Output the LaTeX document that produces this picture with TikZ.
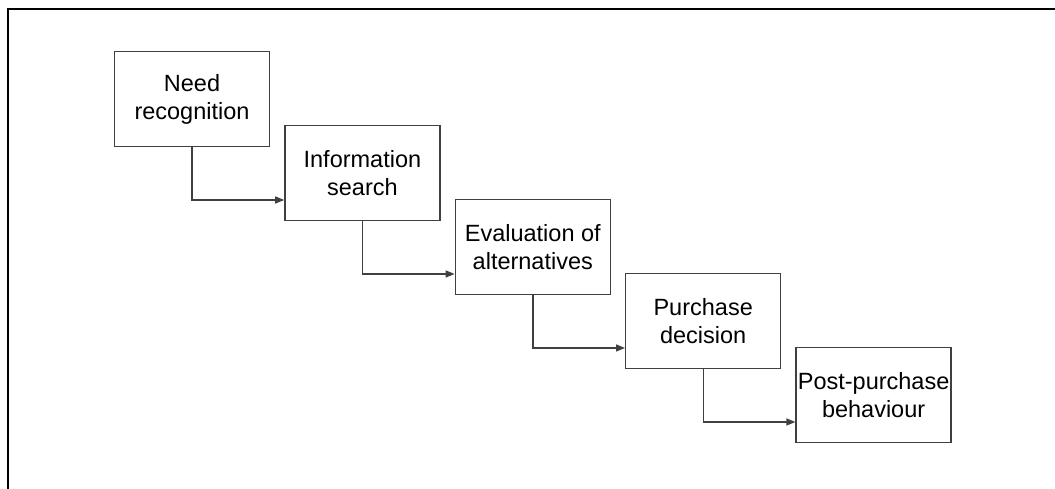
\documentclass[tikz,border=0pt]{standalone}
\usepackage{fontspec}
\setmainfont{Liberation Sans}
\usetikzlibrary{positioning,arrows.meta}

\begin{document}
\begin{tikzpicture}
      \tikzset{
        node distance=-22.4pt and 14pt,
        stage/.style={rectangle,draw=black!75,line width=1.4pt,fill=white,inner sep=0pt,
          minimum width=155pt,minimum height=95pt,align=center,
          font=\fontsize{23.5}{28}\selectfont},
        flow/.style={draw=black!75,line width=1.4pt,-{Triangle[length=9pt,width=7pt]}}
      }
      \useasboundingbox (0,0) rectangle (1055pt,489pt);

      % frame, cut off at the right and bottom
      \draw[line width=2.6pt] (8pt,0pt) -- (8pt,480pt) -- (1056pt,480pt);

      \node[stage] (need) at (192pt,390pt) {Need\\recognition};
      \node[stage, below right=of need] (info) {Information\\search};
      \node[stage, below right=of info] (eval) {Evaluation of\\alternatives};
      \node[stage, below right=of eval] (purch) {Purchase\\decision};
      \node[stage, below right=of purch] (post) {Post-purchase\\behaviour};

      \draw[flow] (need.south) |- ([yshift=-27pt]info.west);
      \draw[flow] (info.south) |- ([yshift=-27pt]eval.west);
      \draw[flow] (eval.south) |- ([yshift=-27pt]purch.west);
      \draw[flow] (purch.south) |- ([yshift=-27pt]post.west);
    \end{tikzpicture}
\end{document}
